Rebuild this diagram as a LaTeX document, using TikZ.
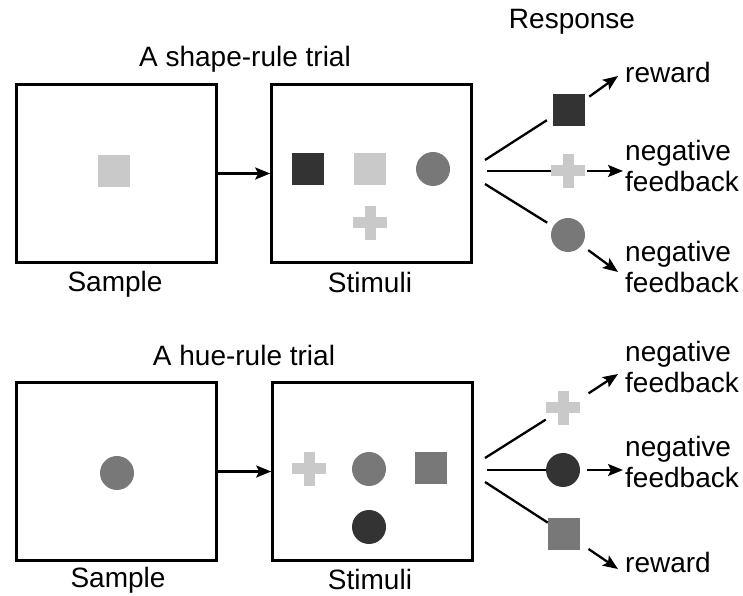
\documentclass[tikz,border=0pt]{standalone}
\usepackage{fontspec}
\setmainfont{Liberation Sans}
\usepackage{xcolor}
\usetikzlibrary{arrows.meta}
\definecolor{darkgr}{gray}{0.2}
\definecolor{midgr}{gray}{0.47}
\definecolor{lightgr}{gray}{0.79}
\tikzset{
    panel/.style={draw, line width=2.6pt, minimum width=200pt, minimum height=178pt, inner sep=0pt},
    sq/.style={fill=#1, minimum size=32pt, inner sep=0pt},
    dot/.style={circle, fill=#1, minimum size=34pt, inner sep=0pt},
    plus/.style={minimum size=34pt, inner sep=0pt, path picture={
		\fill[lightgr] ([xshift=-17pt,yshift=-5.5pt]path picture bounding box.center)
			rectangle ([xshift=17pt,yshift=5.5pt]path picture bounding box.center);
		\fill[lightgr] ([xshift=-5.5pt,yshift=-17pt]path picture bounding box.center)
			rectangle ([xshift=5.5pt,yshift=17pt]path picture bounding box.center);
    }},
    lbl/.style={font=\fontsize{28}{31}\selectfont, inner sep=0pt},
    fan/.style={line width=2.3pt},
    arr/.style={line width=2.3pt, -{Stealth[length=15pt,width=12pt,inset=3pt]}},
}

\begin{document}
\begin{tikzpicture}[x=1pt,y=1pt]
		\useasboundingbox (0,0) rectangle (743,596);

		\node[lbl, anchor=base] (resp) at (572,567) {Response};

		% shape-rule trial
		\node[lbl, anchor=base] (title1) at (245,529) {A shape-rule trial};
		\node[panel] (sample1) at (116.5,422.5) {};
		\node[panel] (stim1) at (371.5,422.5) {};
		\node[lbl, anchor=base] (samplab1) at (115,304) {Sample};
		\node[lbl, anchor=base] (stimlab1) at (370,303) {Stimuli};

		\node[sq=lightgr] (s1cue) at (114,424.5) {};
		\node[sq=darkgr] (s1a) at (307.5,427) {};
		\node[sq=lightgr] (s1b) at (370,427) {};
		\node[dot=midgr] (s1c) at (433,427) {};
		\node[plus] (s1d) at (370,373) {};

		\node[sq=darkgr] (r1a) at (569,485.5) {};
		\node[plus] (r1b) at (568,425) {};
		\node[dot=midgr] (r1c) at (568,361) {};

		\coordinate (f1a) at (485,436);
		\coordinate (f1b) at (487,425);
		\coordinate (f1c) at (485,412);
		\coordinate (t1a) at (618,520);
		\coordinate (t1b) at (623,425);
		\coordinate (t1c) at (618,324);

		\node[lbl, anchor=base west] (out1a) at (625,513) {reward};
		\node[lbl, anchor=base west, align=left] (out1b) at (625,404) {negative\\feedback};
		\node[lbl, anchor=base west, align=left] (out1c) at (625,303) {negative\\feedback};

		% arrows
		\draw[arr] (sample1.east) -- (stim1.west);
		\draw[fan, shorten >=7pt] (f1a) -- (r1a.200);
		\draw[fan] (f1b) -- (r1b.west);
		\draw[fan, shorten >=7pt] (f1c) -- (r1c.150);
		\draw[arr, shorten <=5pt] (r1a.34) -- (t1a);
		\draw[arr, shorten <=2pt] (r1b.east) -- (t1b);
		\draw[arr, shorten <=8pt] (r1c.-37) -- (t1c);

		% hue-rule trial
		\node[lbl, anchor=base] (title2) at (244,230) {A hue-rule trial};
		\node[panel] (sample2) at (116.5,124.5) {};
		\node[panel] (stim2) at (372.5,124.5) {};
		\node[lbl, anchor=base] (samplab2) at (118,9) {Sample};
		\node[lbl, anchor=base] (stimlab2) at (370,6) {Stimuli};

		\node[dot=midgr] (s2cue) at (117,123) {};
		\node[plus] (s2a) at (309,127) {};
		\node[dot=midgr] (s2b) at (369,127) {};
		\node[sq=midgr] (s2c) at (431,127.5) {};
		\node[dot=darkgr] (s2d) at (369,69) {};

		\node[plus] (r2a) at (563,188) {};
		\node[dot=darkgr] (r2b) at (563,126) {};
		\node[sq=midgr] (r2c) at (564,62) {};

		\coordinate (f2a) at (485,138);
		\coordinate (f2b) at (487,126);
		\coordinate (f2c) at (485,114);
		\coordinate (t2a) at (618,222);
		\coordinate (t2b) at (623,126);
		\coordinate (t2c) at (618,27);

		\node[lbl, anchor=base west, align=left] (out2a) at (625,203) {negative\\feedback};
		\node[lbl, anchor=base west, align=left] (out2b) at (625,108) {negative\\feedback};
		\node[lbl, anchor=base west] (out2c) at (625,23) {reward};

		% arrows
		\draw[arr] (sample2.east) -- (stim2.west);
		\draw[fan] (f2a) -- (r2a.214);
		\draw[fan] (f2b) -- (r2b.west);
		\draw[fan] (f2c) -- (r2c.145);
		\draw[arr, shorten <=10pt] (r2a.28) -- (t2a);
		\draw[arr, shorten <=7pt] (r2b.east) -- (t2b);
		\draw[arr, shorten <=10pt] (r2c.-30) -- (t2c);
\end{tikzpicture}
\end{document}
